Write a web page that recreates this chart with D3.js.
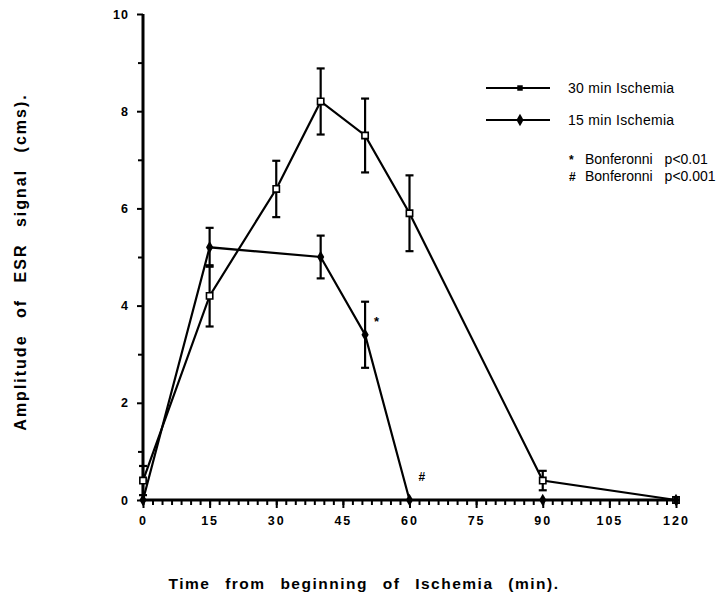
<!DOCTYPE html>
<html><head><meta charset="utf-8">
<script src="https://cdn.jsdelivr.net/npm/d3@7"></script>
<style>body{margin:0;background:#fff}svg{display:block}</style>
</head><body>
<script>
// ---- data ----
const times30 = [0, 15, 30, 40, 50, 60, 90, 120];
const mean30  = [0.4, 4.2, 6.4, 8.2, 7.5, 5.9, 0.4, 0.0];
const err30   = [0.3, 0.63, 0.58, 0.68, 0.76, 0.78, 0.2, 0];
const times15 = [0, 15, 40, 50, 60, 90, 120];
const mean15  = [0, 5.2, 5.0, 3.4, 0, 0, 0];
const err15   = [0, 0.4, 0.44, 0.68, 0, 0, 0];
const xTickLabels = [0, 15, 30, 45, 60, 75, 90, 105, 120];
const yTickLabels = [0, 2, 4, 6, 8, 10];
const yMinorTicks = [1, 3, 5, 7, 9];
const seriesNames = ["30 min Ischemia", "15 min Ischemia"];
const notes = [["*", "Bonferonni  p<0.01"], ["#", "Bonferonni  p<0.001"]];
const markers = [{t: 50, v: 3.4, s: "*"}, {t: 60, v: 0, s: "#"}];

const W = 724, H = 595;
const svg = d3.select("body").append("svg").attr("width", W).attr("height", H);
const x = d3.scaleLinear().domain([0, 120]).range([143, 676]);
const y = d3.scaleLinear().domain([0, 10]).range([500, 14]);
const font = "'Liberation Sans', Arial, sans-serif";

// minor x ticks (7 divisions per 15 min)
const xMinor = d3.range(0, 120.001, 15 / 7);
const gxm = svg.append("g").attr("transform", "translate(0,500)")
  .call(d3.axisBottom(x).tickValues(xMinor).tickSize(5).tickFormat(""));
gxm.select(".domain").remove();
gxm.selectAll("line").attr("stroke", "#000").attr("stroke-width", 2);
const gx = svg.append("g").attr("transform", "translate(0,500)")
  .call(d3.axisBottom(x).tickValues(xTickLabels).tickSize(8).tickSizeOuter(0).tickPadding(8));
gx.select(".domain").attr("stroke", "#000").attr("stroke-width", 3).attr("d", "M143,0H678");
gx.selectAll("line").attr("stroke", "#000").attr("stroke-width", 2);
gx.selectAll("text").attr("font-family", font).attr("font-weight", "bold")
  .attr("font-size", 12.5).attr("letter-spacing", 2).attr("fill", "#000");

const gym = svg.append("g").attr("transform", "translate(143,0)")
  .call(d3.axisLeft(y).tickValues(yMinorTicks).tickSize(5).tickFormat(""));
gym.select(".domain").remove();
gym.selectAll("line").attr("stroke", "#000").attr("stroke-width", 2);
const gy = svg.append("g").attr("transform", "translate(143,0)")
  .call(d3.axisLeft(y).tickValues(yTickLabels).tickSize(6).tickSizeOuter(0).tickPadding(8));
gy.select(".domain").attr("stroke", "#000").attr("stroke-width", 3).attr("d", "M0,14V501");
gy.selectAll("line").attr("stroke", "#000").attr("stroke-width", 2);
gy.selectAll("text").attr("font-family", font).attr("font-weight", "bold")
  .attr("font-size", 12.5).attr("letter-spacing", 1).attr("fill", "#000");

// series
const d30 = times30.map((t, i) => ({t, v: mean30[i], e: err30[i]}));
const d15 = times15.map((t, i) => ({t, v: mean15[i], e: err15[i]}));
const line = d3.line().x(d => x(d.t)).y(d => y(d.v));
[d30, d15].forEach(d => {
  svg.append("path").datum(d).attr("d", line).attr("fill", "none")
    .attr("stroke", "#000").attr("stroke-width", 2.2);
});
function errBars(data) {
  const g = svg.append("g").attr("stroke", "#000").attr("stroke-width", 2.2);
  data.filter(d => d.e > 0).forEach(d => {
    const cx = x(d.t), y1 = y(d.v + d.e), y2 = y(d.v - d.e);
    g.append("line").attr("x1", cx).attr("x2", cx).attr("y1", y1).attr("y2", y2);
    g.append("line").attr("x1", cx - 4).attr("x2", cx + 4).attr("y1", y1).attr("y2", y1);
    g.append("line").attr("x1", cx - 4).attr("x2", cx + 4).attr("y1", y2).attr("y2", y2);
  });
}
errBars(d30); errBars(d15);
const sq = d3.symbol().type(d3.symbolSquare).size(40);
const dia = d3.symbol().type(d3.symbolDiamond).size(45);
svg.append("g").selectAll("path").data(d30).join("path")
  .attr("d", sq).attr("transform", d => `translate(${x(d.t)},${y(d.v)})`)
  .attr("fill", "#fff").attr("stroke", "#000").attr("stroke-width", 1.6);
svg.append("g").selectAll("path").data(d15).join("path")
  .attr("d", dia).attr("transform", d => `translate(${x(d.t)},${y(d.v)})`)
  .attr("fill", "#000");

// significance markers
svg.append("g").selectAll("text").data(markers).join("text")
  .attr("x", d => x(d.t) + 9).attr("y", d => y(d.v) - (d.s === "*" ? 9 : 19))
  .attr("font-family", font).attr("font-weight", "bold")
  .attr("font-size", d => d.s === "*" ? 13 : 12).text(d => d.s);

// legend
const leg = svg.append("g");
seriesNames.forEach((n, i) => {
  const ly = 88 + i * 32;
  leg.append("line").attr("x1", 486).attr("x2", 550).attr("y1", ly).attr("y2", ly)
    .attr("stroke", "#000").attr("stroke-width", 2);
  leg.append("path").attr("d", i === 0 ? d3.symbol().type(d3.symbolSquare).size(30)() : dia())
    .attr("transform", `translate(520,${ly})`).attr("fill", "#000");
  leg.append("text").attr("x", 568).attr("y", ly + 5).attr("font-family", font)
    .attr("font-size", 14).attr("letter-spacing", 0.3).text(n);
});
notes.forEach((n, i) => {
  const ly = 164 + i * 17;
  leg.append("text").attr("x", 569).attr("y", ly).attr("font-family", font)
    .attr("font-weight", "bold").attr("font-size", 12).text(n[0]);
  leg.append("text").attr("x", 585).attr("y", ly).attr("font-family", font)
    .attr("font-size", 14).attr("word-spacing", 8).text(n[1]);
});

// axis titles
svg.append("text").attr("x", 364).attr("y", 589).attr("text-anchor", "middle")
  .attr("font-family", font).attr("font-weight", "bold").attr("font-size", 15.5)
  .attr("letter-spacing", 1.5).attr("word-spacing", 9)
  .text("Time from beginning of Ischemia (min).");
svg.append("text").attr("transform", "translate(26,262) rotate(-90)").attr("text-anchor", "middle")
  .attr("font-family", font).attr("font-weight", "bold").attr("font-size", 16)
  .attr("letter-spacing", 2).attr("word-spacing", 10)
  .text("Amplitude of ESR signal (cms).");
</script>
</body></html>
